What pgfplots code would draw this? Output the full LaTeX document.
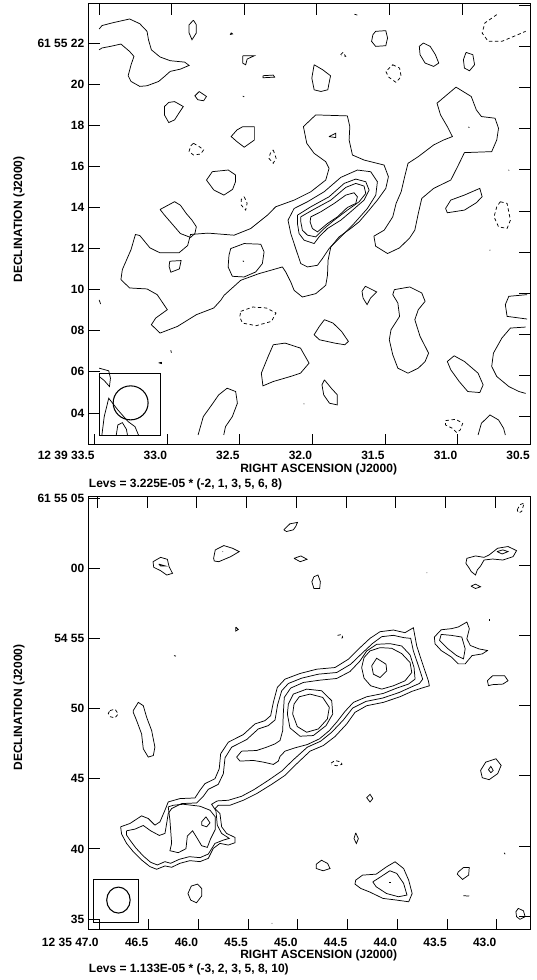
\documentclass[border=0pt]{standalone}
\usepackage{pgfplots}
\pgfplotsset{compat=1.18}
\usepackage{fontspec}
\setmainfont{Liberation Sans}
\begin{document}
\begin{tikzpicture}
\useasboundingbox (0pt,0pt) rectangle (402pt,735pt);
\tikzset{beam/.style={black, line width=0.8pt}, lab/.style={font=\fontsize{9}{10}\selectfont\bfseries, inner sep=0pt}}
\pgfplotsset{
  mapaxis/.style={scale only axis, x dir=reverse, tick align=inside,
    major tick length=7.9pt, axis line style={line width=0.75pt},
    every tick/.style={black,line width=0.6pt},
    tick label style={font=\fontsize{9}{10}\selectfont\bfseries},
    xticklabel style={anchor=north east, inner sep=0pt},
    clip=true},
  cont/.style={black, line width=0.55pt, no markers},
  neg/.style={black, line width=0.55pt, no markers, dash pattern=on 2.5pt off 2pt},
  toppanel/.style={mapaxis, at={(66.75pt,401.25pt)}, anchor=south west,
    width=330.75pt, height=330.75pt, xmin=30.5, xmax=33.54, ymin=2.44, ymax=23.9},
  botpanel/.style={mapaxis, at={(66.75pt,37.5pt)}, anchor=south west,
    width=330.75pt, height=324.75pt, xmin=42.665, xmax=47.10, ymin=34.22, ymax=65.07},
}
% ================= TOP PANEL =================
\begin{axis}[toppanel, xtick pos=left, ytick pos=left,
  xticklabel style={yshift=-4.5pt},
  xtick={30.5,31,31.5,32,32.5,33,33.5},
  xticklabels={30.5,31.0,31.5,32.0,32.5,33.0,12 39 33.5},
  ytick={4,6,8,10,12,14,16,18,20,22},
  yticklabels={04,06,08,10,12,14,16,18,20,61 55 22}]
\addplot[cont] coordinates {(33.47,22.68)(33.45,22.85)(33.38,22.98)(33.26,23.17)(33.19,22.94)(33.14,22.57)(33.13,22.16)(33.11,21.67)(33.05,21.32)(32.98,21.14)(32.88,21.07)(32.85,20.91)(32.91,20.73)(32.98,20.62)(33.02,20.37)(33.06,20.13)(33.14,19.92)(33.19,19.89)(33.25,20.13)(33.27,20.41)(33.25,20.94)(33.23,21.35)(33.26,21.59)(33.32,21.95)(33.39,21.84)(33.45,21.76)(33.47,21.67)};
\addplot[cont] coordinates {(32.82,23.11)(32.80,22.89)(32.80,22.49)(32.83,22.16)(32.85,22.49)(32.85,22.89)(32.82,23.11)};
\addplot[cont] coordinates {(32.56,22.50)(32.55,22.44)(32.565,22.42)(32.56,22.50)};
\addplot[cont] coordinates {(32.48,21.38)(32.40,21.38)(32.45,21.22)(32.46,20.94)(32.48,21.02)(32.48,21.38)};
\addplot[cont] coordinates {(32.34,20.41)(32.27,20.44)(32.26,20.34)(32.34,20.31)(32.34,20.41)};
\addplot[cont] coordinates {(32.48,19.42)(32.47,19.38)};
\addplot[cont] coordinates {(32.78,19.64)(32.73,19.40)(32.75,19.19)(32.79,19.24)(32.81,19.43)(32.78,19.64)};
\addplot[cont] coordinates {(32.95,19.15)(32.89,18.91)(32.92,18.59)(32.95,18.26)(32.99,18.13)(33.02,18.50)(33.02,18.91)(32.99,19.11)(32.95,19.15)};
\addplot[cont] coordinates {(32.48,17.93)(32.40,17.93)(32.40,17.28)(32.47,16.93)(32.52,17.20)(32.56,17.45)(32.52,17.77)(32.48,17.93)};
\addplot[neg] coordinates {(32.82,17.12)(32.78,16.96)(32.75,16.80)(32.77,16.60)(32.82,16.55)(32.85,16.72)(32.84,16.99)(32.82,17.12)};
\addplot[neg] coordinates {(32.27,16.80)(32.25,16.39)(32.27,16.15)(32.30,16.39)(32.29,16.63)(32.27,16.80)};
\addplot[cont] coordinates {(32.69,15.74)(32.58,15.82)(32.53,15.58)(32.53,15.25)(32.55,14.88)(32.61,14.60)(32.68,14.85)(32.73,15.33)(32.69,15.74)};
\addplot[neg] coordinates {(32.47,14.52)(32.45,14.20)(32.46,13.87)(32.49,14.11)(32.49,14.39)(32.47,14.52)};
\addplot[cont] coordinates {(33.05,13.90)(32.95,14.28)(32.91,14.11)(32.87,13.71)(32.83,13.38)(32.80,13.06)(32.81,12.73)(32.84,12.54)(32.91,12.73)(32.96,13.14)(33.02,13.63)(33.05,13.90)};
\addplot[cont] coordinates {(31.977,18.502)(31.759,18.454)(31.742,17.933)(31.747,17.283)(31.724,16.551)(31.644,16.307)(31.506,16.063)(31.476,15.494)(31.494,14.925)(31.552,14.356)(31.609,13.868)(31.678,13.299)(31.736,12.974)(31.816,12.567)(31.873,12.080)(31.892,11.429)(31.896,10.697)(31.908,10.210)(31.977,9.803)(32.069,9.641)(32.126,9.966)(32.149,10.372)(32.184,10.860)(32.207,11.104)(32.287,10.941)(32.368,10.779)(32.494,10.454)(32.609,9.722)(32.632,9.478)(32.68,9.106)(32.80,8.780)(32.93,8.211)(33.05,7.886)(33.11,8.293)(33.08,8.618)(33.00,9.024)(33.07,9.756)(33.14,10.033)(33.26,10.081)(33.32,10.488)(33.31,10.976)(33.25,11.951)(33.22,12.683)(33.19,12.634)(33.12,12.033)(33.05,11.789)(32.92,11.789)(32.86,12.146)(32.84,12.683)(32.72,12.75)(32.540,12.649)(32.425,12.974)(32.310,13.624)(32.253,14.031)(32.126,14.356)(32.011,14.762)(31.908,15.332)(31.885,15.901)(31.908,16.226)(31.988,16.632)(32.039,17.120)(32.062,17.933)(31.977,18.502)};
\addplot[cont] coordinates {(32.168,13.380)(32.149,12.730)(32.115,11.998)(32.080,11.267)(32.034,11.104)(31.965,11.185)(31.931,11.510)(31.885,11.998)(31.804,12.567)(31.713,13.218)(31.621,13.949)(31.563,14.600)(31.552,15.250)(31.598,15.738)(31.690,15.819)(31.804,15.462)(31.919,14.762)(32.034,14.275)(32.126,13.949)(32.168,13.380)};
\addplot[cont] coordinates {(32.103,13.624)(32.011,14.031)(31.885,14.519)(31.781,15.169)(31.701,15.380)(31.632,15.250)(31.609,14.844)(31.644,14.356)(31.736,13.787)(31.804,13.380)(31.896,12.974)(31.954,12.567)(31.988,12.242)(32.057,12.405)(32.092,12.730)(32.103,13.218)(32.103,13.624)};
\addplot[cont] coordinates {(32.080,13.543)(32.000,13.868)(31.873,14.356)(31.770,14.974)(31.701,15.169)(31.644,15.039)(31.632,14.681)(31.678,14.275)(31.759,13.868)(31.850,13.380)(31.919,12.974)(31.977,12.567)(32.034,12.649)(32.069,12.893)(32.080,13.299)(32.080,13.543)};
\addplot[cont] coordinates {(32.011,13.543)(31.942,13.787)(31.850,14.193)(31.770,14.600)(31.713,14.714)(31.690,14.519)(31.701,14.193)(31.759,13.998)(31.827,13.543)(31.896,13.218)(31.965,12.811)(32.000,12.974)(32.016,13.299)(32.011,13.543)};
\addplot[cont] coordinates {(32.563,11.998)(32.471,12.242)(32.356,12.210)(32.333,11.836)(32.345,11.267)(32.391,10.860)(32.471,10.616)(32.552,10.649)(32.581,11.104)(32.575,11.673)(32.563,11.998)};
\addplot[cont] coordinates {(32.48,11.40)(32.472,11.37)};
\addplot[cont] coordinates {(32.983,11.382)(32.905,11.415)(32.917,11.008)(32.976,10.846)(32.988,11.138)(32.983,11.382)};
\addplot[cont] coordinates {(31.01,19.854)(30.905,19.398)(30.87,18.748)(30.835,18.423)(30.741,18.341)(30.717,17.854)(30.729,17.285)(30.764,16.715)(30.952,16.667)(30.999,15.984)(31.046,15.333)(31.164,14.927)(31.246,14.439)(31.27,13.707)(31.294,12.894)(31.329,12.520)(31.399,12.033)(31.482,11.756)(31.564,12.114)(31.576,12.602)(31.505,12.894)(31.446,13.545)(31.423,14.195)(31.388,14.764)(31.364,15.496)(31.341,16.146)(31.27,16.472)(31.164,17.041)(31.094,17.285)(31.035,17.447)(31.07,17.935)(31.117,18.504)(31.141,19.073)(31.01,19.854)};
\addplot[cont] coordinates {(30.925,17.91)(30.918,17.89)};
\addplot[cont] coordinates {(31.564,22.569)(31.494,22.602)(31.482,22.244)(31.494,21.870)(31.564,21.837)(31.592,22.081)(31.583,22.407)(31.564,22.569)};
\addplot[cont] coordinates {(31.235,22.0)(31.188,21.837)(31.152,21.431)(31.129,21.024)(31.164,20.862)(31.223,21.024)(31.258,21.431)(31.263,21.837)(31.235,22.0)};
\addplot[cont] coordinates {(30.941,21.545)(30.894,21.431)(30.882,20.943)(30.917,20.650)(30.952,20.780)(30.959,21.187)(30.941,21.545)};
\addplot[neg] coordinates {(31.446,20.943)(31.399,20.780)(31.388,20.374)(31.423,20.081)(31.474,20.341)(31.494,20.618)(31.446,20.943)};
\addplot[neg] coordinates {(31.806,21.431)(31.788,21.545)(31.771,21.350)(31.799,21.382)};
\addplot[cont] coordinates {(31.988,20.943)(31.929,20.699)(31.875,20.407)(31.894,19.724)(31.941,19.642)(31.988,19.724)(32.004,20.293)(31.988,20.943)};
\addplot[cont] coordinates {(31.71,23.40)(31.69,23.36)};
\addplot[cont] coordinates {(31.886,17.447)(31.839,17.610)(31.839,17.398)(31.886,17.447)};
\addplot[cont] coordinates {(30.648,15.83)(30.644,15.80)};
\addplot[cont] coordinates {(30.778,11.93)(30.774,11.91)};
\addplot[neg] coordinates {(30.729,23.382)(30.811,22.976)(30.830,22.488)(30.788,22.081)(30.694,22.081)(30.611,22.325)(30.53,22.569)};
\addplot[cont] coordinates {(31.082,13.951)(31.046,14.358)(30.952,14.602)(30.846,14.927)(30.830,14.520)(30.870,14.228)(30.952,13.870)(31.07,13.740)(31.082,13.951)};
\addplot[neg] coordinates {(30.705,14.276)(30.658,14.195)(30.635,13.382)(30.658,12.976)(30.717,13.057)(30.748,13.545)(30.729,14.033)(30.705,14.276)};
\addplot[neg] coordinates {(32.494,8.943)(32.411,9.154)(32.317,9.106)(32.251,8.862)(32.282,8.455)(32.388,8.244)(32.482,8.374)(32.501,8.667)(32.494,8.943)};
\addplot[cont] coordinates {(32.976,7.05)(32.972,6.93)};
\addplot[cont] coordinates {(33.06,6.44)(33.04,6.46)(33.04,6.40)(33.06,6.44)};
\addplot[cont] coordinates {(33.47,9.5)(33.46,9.3)};
\addplot[cont] coordinates {(33.451,2.927)(33.435,3.821)(33.404,4.715)(33.341,4.146)(33.27,3.577)(33.223,3.333)(33.199,2.927)};
\addplot[cont] coordinates {(33.352,2.927)(33.341,3.415)(33.310,3.528)(33.282,3.203)(33.275,2.927)};
\addplot[cont] coordinates {(33.47,6.179)(33.404,6.049)(33.392,5.691)(33.399,5.285)(33.435,5.577)(33.47,5.772)};
\addplot[cont] coordinates {(31.917,8.537)(31.858,8.374)(31.799,7.967)(31.752,7.480)(31.776,7.317)(31.846,7.398)(31.952,7.561)(31.988,7.805)(31.952,8.211)(31.917,8.537)};
\addplot[cont] coordinates {(32.27,7.317)(32.188,7.398)(32.082,7.154)(32.023,6.423)(32.082,5.935)(32.152,5.772)(32.27,5.528)(32.341,5.317)(32.352,5.935)(32.305,6.748)(32.27,7.317)};
\addplot[cont] coordinates {(31.917,5.610)(31.87,5.203)(31.828,4.878)(31.828,4.390)(31.882,4.472)(31.922,4.878)(31.934,5.366)(31.917,5.610)};
\addplot[cont] coordinates {(32.06,4.45)(32.056,4.43)};
\addplot[cont] coordinates {(32.788,2.927)(32.752,3.821)(32.694,4.390)(32.646,4.878)(32.588,5.203)(32.529,5.041)(32.517,4.472)(32.552,3.821)(32.599,3.333)(32.611,2.927)};
\addplot[cont] coordinates {(31.635,10.163)(31.588,10.0)(31.557,9.886)(31.599,9.593)(31.623,9.268)(31.651,9.593)(31.658,9.919)(31.635,10.163)};
\addplot[cont] coordinates {(31.435,10.0)(31.329,10.130)(31.246,9.837)(31.223,9.431)(31.27,9.024)(31.294,8.537)(31.258,7.724)(31.199,6.911)(31.223,6.504)(31.27,6.179)(31.341,5.935)(31.411,6.179)(31.446,6.829)(31.47,7.561)(31.458,8.049)(31.399,8.699)(31.411,9.350)(31.446,9.756)(31.435,10.0)};
\addplot[cont] coordinates {(31.023,6.780)(30.952,6.504)(30.858,5.935)(30.823,5.366)(30.846,4.992)(30.929,5.041)(30.988,5.528)(31.046,6.098)(31.07,6.504)(31.023,6.780)};
\addplot[cont] coordinates {(30.52,9.756)(30.646,9.675)(30.67,9.268)(30.658,8.699)(30.52,8.569)};
\addplot[cont] coordinates {(30.53,8.179)(30.635,8.130)(30.694,7.642)(30.752,6.911)(30.764,6.260)(30.729,5.772)(30.646,5.285)(30.576,5.041)(30.53,4.95)};
\addplot[cont] coordinates {(30.858,2.927)(30.835,3.496)(30.776,3.902)(30.717,3.659)(30.682,3.252)(30.67,2.927)};
\addplot[neg] coordinates {(31.082,3.626)(31.011,3.691)(30.964,3.496)(30.981,3.171)(31.005,3.041)(31.035,3.252)(31.082,3.415)(31.082,3.626)};
\draw[line width=0.6pt] (axis cs:33.47,2.93) rectangle (axis cs:33.05,5.90);
\draw[beam] (axis cs:33.253,4.49) ellipse [x radius=13.1pt, y radius=12.75pt];
\end{axis}
\begin{axis}[toppanel, xtick pos=right, ytick pos=right,
  xtick={30.969,31.469,31.969,32.469,32.969,33.469}, xticklabels={},
  ytick={3.83,5.83,7.83,9.83,11.83,13.83,15.83,17.83,19.83,21.83,23.83}, yticklabels={}]
\end{axis}
\node[lab] at (239pt,383pt) {RIGHT ASCENSION (J2000)};
\node[lab, anchor=west] at (66.5pt,371.5pt) {Levs = 3.225E-05 * (-2, 1, 3, 5, 6, 8)};
\node[lab, rotate=90] at (14.25pt,570.4pt) {DECLINATION (J2000)};
% ================= BOTTOM PANEL =================
\begin{axis}[botpanel, xtick pos=left, ytick pos=left,
  xticklabel style={yshift=-6pt},
  xtick={43,43.5,44,44.5,45,45.5,46,46.5,47},
  xticklabels={43.0,43.5,44.0,44.5,45.0,45.5,46.0,46.5,12 35 47.0},
  ytick={35,40,45,50,55,60,65},
  yticklabels={35,40,45,50,54 55,00,61 55 05}]
\addplot[cont] coordinates {(45.141,62.73)(45.079,63.16)(45.003,63.26)(45.021,62.97)(45.045,62.73)(45.114,62.61)(45.141,62.73)};
\addplot[cont] coordinates {(45.847,60.70)(45.830,61.30)(45.744,61.61)(45.658,61.42)(45.589,61.18)(45.675,60.82)(45.795,60.46)(45.840,60.51)(45.847,60.70)};
\addplot[cont] coordinates {(45.756,61.19)(45.752,61.17)};
\addplot[cont] coordinates {(46.456,60.46)(46.380,60.77)(46.312,60.63)(46.294,60.10)(46.260,59.63)(46.318,59.51)(46.380,59.82)(46.449,60.06)(46.456,60.46)};
\addplot[cont] coordinates {(46.398,60.29)(46.329,60.15)(46.380,60.15)(46.398,60.29)};
\addplot[cont] coordinates {(45.038,60.70)(44.969,60.87)(44.907,60.63)(44.976,60.46)(45.038,60.70)};
\addplot[cont] coordinates {(44.838,59.39)(44.797,59.51)(44.773,59.03)(44.780,58.55)(44.838,58.55)(44.859,59.03)(44.838,59.39)};
\addplot[cont] coordinates {(43.704,59.68)(43.700,59.66)};
\addplot[cont] coordinates {(43.310,60.34)(43.300,60.70)(43.213,60.87)(43.127,60.77)(43.076,60.94)(42.990,61.42)(42.886,61.54)(42.800,61.25)(42.835,60.82)(42.938,60.58)(43.041,60.65)(43.127,60.58)(43.162,60.15)(43.196,59.86)(43.213,59.51)(43.255,59.75)(43.282,60.06)(43.310,60.34)};
\addplot[cont] coordinates {(42.997,61.18)(42.938,61.30)(42.886,61.18)(42.945,61.01)(42.997,61.18)};
\addplot[cont] coordinates {(43.258,58.72)(43.213,58.86)(43.162,58.67)(43.213,58.55)(43.258,58.72)};
\addplot[neg] coordinates {(42.793,64.16)(42.766,64.52)(42.724,64.64)(42.748,64.04)(42.783,63.93)(42.793,64.16)};
\addplot[cont] coordinates {(45.623,55.80)(45.599,55.63)(45.623,55.52)(45.623,55.80)};
\addplot[cont] coordinates {(46.245,53.77)(46.225,53.73)};
\addplot[neg] coordinates {(44.601,55.21)(44.556,55.28)(44.549,55.04)(44.584,55.00)};
\addplot[cont] coordinates {(43.07,56.36)(43.07,56.22)};
\addplot[neg] coordinates {(46.889,49.85)(46.839,49.96)(46.806,49.61)(46.839,49.33)(46.889,49.42)(46.906,49.66)(46.889,49.85)};
\addplot[cont] coordinates {(46.655,49.85)(46.604,50.44)(46.554,50.20)(46.520,49.37)(46.470,48.43)(46.437,47.25)(46.453,46.65)(46.504,46.54)(46.554,47.13)(46.571,48.19)(46.621,49.14)(46.655,49.73)(46.655,49.85)};
\addplot[cont] coordinates {(43.627,55.09)(43.558,55.61)(43.454,55.69)(43.386,55.81)(43.300,56.16)(43.275,55.69)(43.300,54.97)(43.265,54.49)(43.179,54.25)(43.093,54.13)(43.145,53.89)(43.248,53.77)(43.317,53.18)(43.386,53.18)(43.454,53.66)(43.558,54.13)(43.620,54.61)(43.627,55.09)};
\addplot[cont] coordinates {(43.575,54.85)(43.558,55.28)(43.454,55.21)(43.351,55.09)(43.317,54.25)(43.334,53.54)(43.403,53.77)(43.489,54.25)(43.575,54.85)};
\addplot[cont] coordinates {(43.093,51.98)(43.041,52.34)(42.921,52.34)(42.886,51.98)(42.938,51.74)(43.041,51.70)(43.083,51.63)(43.093,51.98)};
\addplot[cont] coordinates {(46.782,41.572)(46.688,41.809)(46.571,42.352)(46.504,42.163)(46.437,41.690)(46.386,41.927)(46.336,42.754)(46.303,43.345)(46.185,43.582)(46.034,43.629)(45.984,44.173)(45.934,44.645)(45.833,45.000)(45.790,45.709)(45.776,46.773)(45.699,47.600)(45.548,48.144)(45.431,48.900)(45.330,49.137)(45.273,49.491)(45.246,50.437)(45.206,51.501)(45.129,52.092)(44.978,52.494)(44.810,52.801)(44.626,52.920)(44.492,53.511)(44.374,54.338)(44.274,54.999)(44.173,55.473)(44.039,55.591)(43.922,55.402)(43.838,55.756)(43.804,54.456)(43.744,53.156)(43.687,51.974)(43.677,51.619)(43.754,51.454)(43.854,51.217)(43.972,50.839)(44.140,50.437)(44.307,50.201)(44.425,49.728)(44.508,48.900)(44.626,48.002)(44.743,47.364)(44.877,46.962)(45.011,46.064)(45.129,45.236)(45.263,44.598)(45.414,43.936)(45.548,43.463)(45.682,43.108)(45.800,43.108)(45.833,42.872)(45.783,42.518)(45.766,41.572)(45.716,41.099)(45.632,40.816)(45.632,40.437)(45.699,40.272)(45.783,40.390)(45.850,40.035)(45.900,39.326)(45.984,39.090)(46.085,39.161)(46.185,38.972)(46.269,38.688)(46.336,38.783)(46.420,38.546)(46.487,38.735)(46.571,39.208)(46.655,39.799)(46.722,40.390)(46.772,41.052)(46.782,41.572)};
\addplot[cont] coordinates {(46.722,41.288)(46.638,41.407)(46.554,41.667)(46.480,41.288)(46.393,40.957)(46.336,41.099)(46.319,41.809)(46.303,42.518)(46.269,42.872)(46.168,43.227)(46.017,43.274)(45.950,43.747)(45.900,44.243)(45.800,44.598)(45.749,45.354)(45.732,46.489)(45.665,47.246)(45.514,47.790)(45.397,48.546)(45.297,48.782)(45.229,49.184)(45.203,50.272)(45.162,51.265)(45.095,51.785)(44.961,52.163)(44.793,52.447)(44.609,52.565)(44.468,53.156)(44.347,53.983)(44.247,54.645)(44.156,55.118)(44.039,55.213)(43.932,55.047)(43.865,54.999)(43.838,54.102)(43.787,53.038)(43.744,52.092)(43.777,51.785)(43.854,51.548)(43.979,51.146)(44.146,50.745)(44.314,50.508)(44.448,50.035)(44.542,49.184)(44.659,48.309)(44.770,47.671)(44.904,47.246)(45.045,46.347)(45.162,45.544)(45.297,44.882)(45.441,44.220)(45.565,43.747)(45.699,43.463)(45.810,43.416)(45.867,43.179)(45.823,42.707)(45.810,41.690)(45.766,41.099)(45.689,40.745)(45.749,40.626)(45.833,40.390)(45.900,39.633)(45.984,39.374)(46.091,39.444)(46.192,39.255)(46.279,38.972)(46.336,39.090)(46.413,38.854)(46.480,39.043)(46.554,39.492)(46.631,40.083)(46.688,40.626)(46.722,40.981)(46.722,41.288)};
\addplot[cont] coordinates {(45.615,46.537)(45.565,46.962)(45.414,47.009)(45.313,47.246)(45.229,47.482)(45.179,47.719)(45.152,48.428)(45.146,49.610)(45.136,50.792)(45.072,51.454)(44.944,51.856)(44.777,52.021)(44.609,52.139)(44.475,52.636)(44.374,53.392)(44.307,54.102)(44.207,54.574)(44.073,54.622)(43.955,54.456)(43.871,53.818)(43.831,52.920)(43.821,52.092)(43.888,51.738)(44.005,51.454)(44.140,51.076)(44.307,50.839)(44.441,50.437)(44.525,49.799)(44.602,49.090)(44.683,48.428)(44.783,47.837)(44.904,47.435)(45.028,47.198)(45.129,46.962)(45.179,46.584)(45.196,46.253)(45.246,46.016)(45.347,46.182)(45.447,46.300)(45.582,46.253)(45.615,46.537)};
\addplot[cont] coordinates {(46.303,42.991)(46.286,42.045)(46.269,40.390)(46.286,39.870)(46.202,39.728)(46.125,40.012)(46.111,40.910)(46.058,41.288)(46.011,40.745)(45.967,40.224)(45.910,40.106)(45.877,40.721)(45.830,41.383)(45.830,42.281)(45.883,42.754)(45.984,43.038)(46.152,43.179)(46.252,43.108)(46.303,42.991)};
\addplot[cont] coordinates {(45.105,49.610)(45.095,50.319)(45.045,51.028)(44.911,51.383)(44.760,51.265)(44.659,50.555)(44.649,49.610)(44.716,48.782)(44.844,48.073)(44.978,48.026)(45.079,48.617)(45.105,49.610)};
\addplot[cont] coordinates {(45.052,49.610)(45.038,50.319)(44.985,50.839)(44.877,51.028)(44.750,50.792)(44.683,50.083)(44.703,49.255)(44.793,48.546)(44.911,48.309)(45.005,48.711)(45.052,49.610)};
\addplot[cont] coordinates {(44.358,52.920)(44.334,53.629)(44.274,54.102)(44.173,54.338)(44.056,54.291)(43.955,53.912)(43.871,53.274)(43.854,52.565)(43.922,51.974)(44.039,51.619)(44.156,51.383)(44.267,51.619)(44.334,52.163)(44.358,52.920)};
\addplot[cont] coordinates {(44.257,53.038)(44.207,53.581)(44.113,53.156)(44.106,52.683)(44.173,52.210)(44.240,52.447)(44.257,53.038)};
\addplot[cont] coordinates {(45.967,41.927)(45.924,42.281)(45.883,41.856)(45.917,41.572)(45.967,41.690)(45.967,41.927)};
\addplot[neg] coordinates {(44.666,46.11)(44.625,46.30)(44.563,46.18)(44.556,46.02)(44.608,45.92)(44.659,46.00)};
\addplot[cont] coordinates {(43.110,46.18)(43.007,46.42)(42.955,45.95)(42.990,45.36)(43.076,44.93)(43.145,45.07)(43.162,45.59)(43.110,46.18)};
\addplot[cont] coordinates {(43.083,45.64)(43.059,45.88)(43.035,45.59)(43.059,45.43)(43.083,45.64)};
\addplot[cont] coordinates {(44.308,43.65)(44.274,43.89)(44.246,43.58)(44.274,43.34)(44.308,43.65)};
\addplot[cont] coordinates {(44.418,41.14)(44.391,40.73)(44.411,40.38)(44.435,40.73)(44.418,41.14)};
\addplot[cont] coordinates {(42.925,39.72)(42.915,39.62)};
\addplot[cont] coordinates {(44.814,38.91)(44.762,39.19)(44.700,38.96)(44.676,38.60)(44.745,38.44)(44.814,38.60)(44.814,38.91)};
\addplot[cont] coordinates {(43.386,38.36)(43.334,38.67)(43.276,38.67)(43.282,38.13)(43.344,37.82)(43.396,38.20)(43.386,38.36)};
\addplot[cont] coordinates {(43.334,36.66)(43.276,36.64)};
\addplot[cont] coordinates {(42.783,35.76)(42.731,35.59)(42.714,35.17)(42.766,34.98)(42.800,35.17)(42.807,35.52)(42.783,35.76)};
\addplot[cont] coordinates {(44.418,37.77)(44.349,38.13)(44.212,38.20)(44.108,38.72)(44.022,39.08)(43.936,38.60)(43.885,37.77)(43.850,36.82)(43.885,36.23)(44.005,36.35)(44.143,36.47)(44.281,36.94)(44.367,37.18)(44.425,37.49)(44.418,37.77)};
\addplot[cont] coordinates {(44.246,37.65)(44.177,37.96)(44.074,38.44)(44.005,38.25)(43.936,37.54)(43.902,36.71)(43.988,36.59)(44.108,36.82)(44.212,37.30)(44.246,37.65)};
\addplot[cont] coordinates {(44.08,37.6)(44.065,37.6)};
\addplot[cont] coordinates {(46.071,37.35)(46.009,37.49)(45.967,37.18)(45.967,36.64)(46.019,36.16)(46.077,36.35)(46.105,36.82)(46.071,37.35)};
\addplot[cont] coordinates {(45.262,34.70)(45.258,34.68)};
\draw[line width=0.6pt] (axis cs:47.06,34.79) rectangle (axis cs:46.608,37.84);
\draw[beam] (axis cs:46.804,36.35) ellipse [x radius=8.8pt, y radius=9.75pt];
\end{axis}
\begin{axis}[botpanel, xtick pos=right, ytick pos=right,
  xtick={43.015,43.515,44.015,44.515,45.015,45.515,46.015,46.515,47.015}, xticklabels={},
  ytick={35.2,40.2,45.2,50.2,55.2,60.2}, yticklabels={}]
\end{axis}
\node[lab] at (239pt,18.25pt) {RIGHT ASCENSION (J2000)};
\node[lab, anchor=west] at (66.5pt,8.25pt) {Levs = 1.133E-05 * (-3, 2, 3, 5, 8, 10)};
\node[lab, rotate=90] at (14.25pt,204.4pt) {DECLINATION (J2000)};
\end{tikzpicture}
\end{document}
